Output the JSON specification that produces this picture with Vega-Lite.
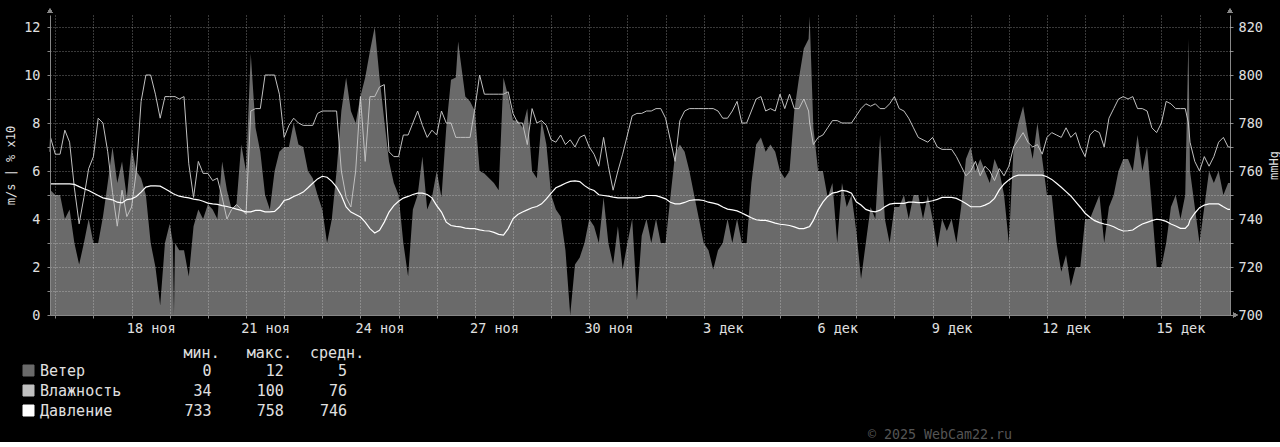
{
 "$schema": "https://vega.github.io/schema/vega-lite/v6.json",
 "background": "#000000",
 "padding": {"left": 4, "top": 8, "right": 0, "bottom": 0},
 "width": 1180,
 "height": 300,
 "title": {"text": "© 2025 WebCam22.ru", "orient": "bottom", "anchor": "start", "frame": "group", "dx": 818, "offset": 9, "font": "DejaVu Sans Mono", "fontSize": 13.3, "fontWeight": "normal", "color": "#555555"},
 "config": {
  "view": {"stroke": null},
  "font": "DejaVu Sans Mono",
  "axis": {"labelFont": "DejaVu Sans Mono", "labelFontSize": 13.5, "labelColor": "#e0e0e0", "titleFont": "DejaVu Sans Mono", "titleColor": "#e0e0e0", "titleFontWeight": "normal", "titleFontSize": 12, "domainColor": "#888888", "tickColor": "#888888", "gridColor": "#ffffff", "gridOpacity": 0.45, "gridDash": [1, 2], "labelFlush": false, "labelOverlap": false}
 },
 "data": {"values": [
  {"t":"2025-11-15T20:40","w":5.0,"h":68,"p":754.6},
  {"t":"2025-11-15T21:00","w":5.2,"h":74,"p":754.6},
  {"t":"2025-11-16T00:00","w":5.0,"h":67,"p":754.6},
  {"t":"2025-11-16T03:00","w":5.0,"h":67,"p":754.6},
  {"t":"2025-11-16T06:00","w":4.0,"h":77,"p":754.6},
  {"t":"2025-11-16T09:00","w":4.4,"h":72,"p":754.6},
  {"t":"2025-11-16T12:00","w":3.0,"h":53,"p":754.4},
  {"t":"2025-11-16T15:00","w":2.1,"h":38,"p":753.5},
  {"t":"2025-11-16T18:00","w":3.0,"h":49,"p":752.6},
  {"t":"2025-11-16T21:00","w":4.0,"h":61,"p":751.9},
  {"t":"2025-11-17T00:00","w":3.0,"h":66,"p":750.8},
  {"t":"2025-11-17T03:00","w":3.0,"h":82,"p":749.8},
  {"t":"2025-11-17T06:00","w":4.1,"h":80,"p":748.8},
  {"t":"2025-11-17T09:00","w":5.5,"h":68,"p":748.4},
  {"t":"2025-11-17T12:00","w":7.0,"h":51,"p":748.0},
  {"t":"2025-11-17T15:00","w":5.5,"h":37,"p":747.0},
  {"t":"2025-11-17T18:00","w":6.4,"h":52,"p":746.7},
  {"t":"2025-11-17T21:00","w":4.9,"h":41,"p":748.1},
  {"t":"2025-11-18T00:00","w":7.0,"h":45,"p":748.4},
  {"t":"2025-11-18T03:00","w":6.0,"h":60,"p":749.4},
  {"t":"2025-11-18T06:00","w":5.7,"h":89,"p":751.2},
  {"t":"2025-11-18T09:00","w":5.0,"h":100,"p":753.3},
  {"t":"2025-11-18T12:00","w":3.0,"h":100,"p":753.8},
  {"t":"2025-11-18T15:00","w":2.0,"h":92,"p":753.8},
  {"t":"2025-11-18T18:00","w":0.4,"h":82,"p":753.7},
  {"t":"2025-11-18T21:00","w":3.0,"h":91,"p":752.6},
  {"t":"2025-11-19T00:00","w":3.8,"h":91,"p":751.5},
  {"t":"2025-11-19T02:00","w":3.0,"h":91,"p":750.6},
  {"t":"2025-11-19T02:40","w":0.0,"h":91,"p":750.4},
  {"t":"2025-11-19T03:20","w":3.0,"h":91,"p":750.2},
  {"t":"2025-11-19T06:00","w":2.7,"h":90,"p":749.5},
  {"t":"2025-11-19T09:00","w":2.7,"h":91,"p":749.1},
  {"t":"2025-11-19T12:00","w":1.6,"h":63,"p":748.8},
  {"t":"2025-11-19T15:00","w":3.7,"h":49,"p":748.3},
  {"t":"2025-11-19T18:00","w":4.4,"h":64,"p":748.0},
  {"t":"2025-11-19T21:00","w":4.0,"h":59,"p":747.4},
  {"t":"2025-11-20T00:00","w":4.6,"h":59,"p":746.6},
  {"t":"2025-11-20T03:00","w":4.4,"h":56,"p":746.3},
  {"t":"2025-11-20T06:00","w":4.0,"h":57,"p":746.1},
  {"t":"2025-11-20T09:00","w":6.4,"h":49,"p":745.6},
  {"t":"2025-11-20T12:00","w":5.2,"h":40,"p":745.2},
  {"t":"2025-11-20T15:00","w":4.4,"h":44,"p":744.7},
  {"t":"2025-11-20T18:00","w":4.6,"h":46,"p":744.1},
  {"t":"2025-11-20T21:00","w":7.1,"h":44,"p":743.6},
  {"t":"2025-11-21T00:00","w":6.0,"h":42,"p":743.0},
  {"t":"2025-11-21T03:00","w":10.9,"h":85,"p":743.0},
  {"t":"2025-11-21T06:00","w":7.8,"h":86,"p":743.6},
  {"t":"2025-11-21T09:00","w":6.8,"h":86,"p":743.6},
  {"t":"2025-11-21T12:00","w":5.0,"h":100,"p":743.0},
  {"t":"2025-11-21T15:00","w":4.4,"h":100,"p":743.0},
  {"t":"2025-11-21T18:00","w":6.0,"h":100,"p":743.2},
  {"t":"2025-11-21T21:00","w":6.8,"h":92,"p":745.0},
  {"t":"2025-11-22T00:00","w":7.0,"h":74,"p":747.7},
  {"t":"2025-11-22T03:00","w":7.0,"h":79,"p":748.3},
  {"t":"2025-11-22T06:00","w":8.0,"h":82,"p":749.4},
  {"t":"2025-11-22T09:00","w":7.1,"h":80,"p":750.2},
  {"t":"2025-11-22T12:00","w":7.0,"h":79,"p":751.2},
  {"t":"2025-11-22T15:00","w":6.0,"h":79,"p":753.0},
  {"t":"2025-11-22T18:00","w":5.7,"h":79,"p":754.9},
  {"t":"2025-11-22T21:00","w":5.0,"h":84,"p":756.7},
  {"t":"2025-11-23T00:00","w":4.4,"h":85,"p":757.8},
  {"t":"2025-11-23T03:00","w":3.0,"h":85,"p":757.4},
  {"t":"2025-11-23T06:00","w":4.0,"h":85,"p":755.7},
  {"t":"2025-11-23T09:00","w":6.0,"h":85,"p":753.3},
  {"t":"2025-11-23T12:00","w":8.5,"h":60,"p":749.8},
  {"t":"2025-11-23T15:00","w":9.9,"h":49,"p":745.0},
  {"t":"2025-11-23T18:00","w":8.5,"h":45,"p":742.9},
  {"t":"2025-11-23T21:00","w":8.0,"h":60,"p":741.9},
  {"t":"2025-11-24T00:00","w":9.1,"h":91,"p":740.8},
  {"t":"2025-11-24T03:00","w":9.9,"h":64,"p":738.7},
  {"t":"2025-11-24T06:00","w":11.0,"h":91,"p":736.0},
  {"t":"2025-11-24T09:00","w":12.0,"h":91,"p":734.2},
  {"t":"2025-11-24T12:00","w":9.9,"h":95,"p":735.3},
  {"t":"2025-11-24T15:00","w":8.1,"h":96,"p":738.7},
  {"t":"2025-11-24T18:00","w":6.4,"h":68,"p":742.9},
  {"t":"2025-11-24T21:00","w":5.5,"h":66,"p":745.6},
  {"t":"2025-11-25T00:00","w":5.0,"h":66,"p":747.4},
  {"t":"2025-11-25T03:00","w":3.0,"h":75,"p":748.7},
  {"t":"2025-11-25T06:00","w":1.6,"h":75,"p":749.4},
  {"t":"2025-11-25T09:00","w":4.4,"h":80,"p":750.2},
  {"t":"2025-11-25T12:00","w":5.0,"h":85,"p":750.8},
  {"t":"2025-11-25T15:00","w":6.6,"h":79,"p":750.8},
  {"t":"2025-11-25T18:00","w":4.4,"h":74,"p":750.2},
  {"t":"2025-11-25T21:00","w":4.9,"h":77,"p":748.8},
  {"t":"2025-11-26T00:00","w":6.0,"h":75,"p":745.6},
  {"t":"2025-11-26T03:00","w":4.9,"h":85,"p":742.9},
  {"t":"2025-11-26T06:00","w":7.8,"h":80,"p":738.7},
  {"t":"2025-11-26T09:00","w":9.8,"h":80,"p":737.3},
  {"t":"2025-11-26T12:00","w":9.9,"h":74,"p":736.9},
  {"t":"2025-11-26T13:30","w":11.4,"h":74,"p":736.8},
  {"t":"2025-11-26T15:00","w":10.6,"h":74,"p":736.7},
  {"t":"2025-11-26T18:00","w":9.1,"h":74,"p":736.2},
  {"t":"2025-11-26T21:00","w":8.9,"h":74,"p":736.0},
  {"t":"2025-11-27T00:00","w":8.5,"h":86,"p":736.0},
  {"t":"2025-11-27T03:00","w":6.0,"h":100,"p":735.5},
  {"t":"2025-11-27T06:00","w":5.9,"h":92,"p":735.1},
  {"t":"2025-11-27T09:00","w":5.7,"h":92,"p":735.0},
  {"t":"2025-11-27T12:00","w":5.5,"h":92,"p":734.4},
  {"t":"2025-11-27T15:00","w":5.2,"h":92,"p":733.6},
  {"t":"2025-11-27T18:00","w":9.9,"h":92,"p":733.3},
  {"t":"2025-11-27T21:00","w":9.1,"h":93,"p":736.0},
  {"t":"2025-11-28T00:00","w":8.1,"h":84,"p":740.1},
  {"t":"2025-11-28T03:00","w":8.1,"h":80,"p":741.9},
  {"t":"2025-11-28T06:00","w":7.8,"h":80,"p":742.9},
  {"t":"2025-11-28T09:00","w":8.6,"h":71,"p":743.8},
  {"t":"2025-11-28T12:00","w":6.0,"h":86,"p":744.7},
  {"t":"2025-11-28T15:00","w":5.7,"h":80,"p":745.2},
  {"t":"2025-11-28T18:00","w":8.1,"h":81,"p":746.3},
  {"t":"2025-11-28T21:00","w":7.1,"h":79,"p":748.4},
  {"t":"2025-11-29T00:00","w":5.0,"h":73,"p":750.8},
  {"t":"2025-11-29T03:00","w":4.4,"h":72,"p":753.0},
  {"t":"2025-11-29T06:00","w":4.1,"h":75,"p":753.9},
  {"t":"2025-11-29T09:00","w":2.7,"h":71,"p":754.9},
  {"t":"2025-11-29T12:00","w":0.0,"h":73,"p":755.7},
  {"t":"2025-11-29T15:00","w":2.1,"h":70,"p":755.9},
  {"t":"2025-11-29T18:00","w":2.4,"h":74,"p":755.6},
  {"t":"2025-11-29T21:00","w":3.0,"h":75,"p":753.9},
  {"t":"2025-11-30T00:00","w":4.0,"h":70,"p":752.6},
  {"t":"2025-11-30T03:00","w":3.7,"h":67,"p":751.9},
  {"t":"2025-11-30T06:00","w":3.0,"h":62,"p":750.1},
  {"t":"2025-11-30T09:00","w":4.9,"h":74,"p":749.8},
  {"t":"2025-11-30T12:00","w":3.0,"h":62,"p":749.5},
  {"t":"2025-11-30T15:00","w":2.1,"h":52,"p":749.1},
  {"t":"2025-11-30T18:00","w":3.7,"h":60,"p":748.8},
  {"t":"2025-11-30T21:00","w":1.9,"h":67,"p":748.8},
  {"t":"2025-12-01T00:00","w":3.0,"h":75,"p":748.8},
  {"t":"2025-12-01T03:00","w":4.0,"h":83,"p":748.8},
  {"t":"2025-12-01T06:00","w":0.6,"h":84,"p":748.8},
  {"t":"2025-12-01T09:00","w":3.3,"h":84,"p":749.1},
  {"t":"2025-12-01T12:00","w":4.0,"h":85,"p":749.8},
  {"t":"2025-12-01T15:00","w":3.0,"h":85,"p":749.8},
  {"t":"2025-12-01T18:00","w":4.0,"h":86,"p":749.7},
  {"t":"2025-12-01T21:00","w":3.0,"h":86,"p":749.1},
  {"t":"2025-12-02T00:00","w":3.0,"h":82,"p":748.4},
  {"t":"2025-12-02T03:00","w":4.9,"h":73,"p":747.0},
  {"t":"2025-12-02T06:00","w":6.7,"h":64,"p":746.3},
  {"t":"2025-12-02T09:00","w":7.1,"h":81,"p":746.3},
  {"t":"2025-12-02T12:00","w":6.8,"h":85,"p":746.9},
  {"t":"2025-12-02T15:00","w":6.0,"h":86,"p":747.7},
  {"t":"2025-12-02T18:00","w":5.0,"h":86,"p":748.0},
  {"t":"2025-12-02T21:00","w":4.0,"h":86,"p":748.0},
  {"t":"2025-12-03T00:00","w":3.0,"h":86,"p":747.7},
  {"t":"2025-12-03T03:00","w":2.7,"h":86,"p":747.0},
  {"t":"2025-12-03T06:00","w":1.9,"h":86,"p":746.6},
  {"t":"2025-12-03T09:00","w":2.7,"h":85,"p":746.1},
  {"t":"2025-12-03T12:00","w":3.0,"h":82,"p":745.0},
  {"t":"2025-12-03T15:00","w":4.0,"h":82,"p":744.1},
  {"t":"2025-12-03T18:00","w":3.0,"h":85,"p":743.8},
  {"t":"2025-12-03T21:00","w":4.0,"h":89,"p":743.4},
  {"t":"2025-12-04T00:00","w":3.0,"h":80,"p":742.5},
  {"t":"2025-12-04T03:00","w":3.0,"h":80,"p":741.5},
  {"t":"2025-12-04T06:00","w":5.5,"h":85,"p":740.5},
  {"t":"2025-12-04T09:00","w":7.1,"h":90,"p":739.7},
  {"t":"2025-12-04T12:00","w":7.4,"h":91,"p":739.4},
  {"t":"2025-12-04T15:00","w":6.8,"h":85,"p":739.4},
  {"t":"2025-12-04T18:00","w":7.1,"h":86,"p":738.9},
  {"t":"2025-12-04T21:00","w":6.8,"h":85,"p":738.3},
  {"t":"2025-12-05T00:00","w":6.0,"h":92,"p":737.8},
  {"t":"2025-12-05T03:00","w":5.7,"h":86,"p":737.6},
  {"t":"2025-12-05T06:00","w":6.0,"h":92,"p":737.3},
  {"t":"2025-12-05T09:00","w":8.5,"h":86,"p":736.7},
  {"t":"2025-12-05T12:00","w":9.9,"h":86,"p":736.0},
  {"t":"2025-12-05T15:00","w":11.1,"h":90,"p":736.0},
  {"t":"2025-12-05T18:00","w":11.5,"h":85,"p":736.7},
  {"t":"2025-12-05T18:40","w":12.45,"h":80,"p":736.9},
  {"t":"2025-12-05T21:00","w":7.8,"h":71,"p":739.4},
  {"t":"2025-12-06T00:00","w":6.0,"h":74,"p":743.8},
  {"t":"2025-12-06T03:00","w":6.0,"h":75,"p":747.0},
  {"t":"2025-12-06T06:00","w":4.9,"h":78,"p":749.4},
  {"t":"2025-12-06T09:00","w":5.5,"h":81,"p":750.8},
  {"t":"2025-12-06T12:00","w":3.0,"h":81,"p":751.2},
  {"t":"2025-12-06T15:00","w":5.5,"h":80,"p":751.9},
  {"t":"2025-12-06T18:00","w":4.5,"h":80,"p":751.6},
  {"t":"2025-12-06T21:00","w":5.0,"h":80,"p":750.7},
  {"t":"2025-12-07T00:00","w":3.5,"h":83,"p":747.2},
  {"t":"2025-12-07T03:00","w":1.5,"h":86,"p":745.8},
  {"t":"2025-12-07T06:00","w":3.0,"h":88,"p":744.0},
  {"t":"2025-12-07T09:00","w":4.5,"h":87,"p":743.3},
  {"t":"2025-12-07T12:00","w":4.0,"h":88,"p":743.0},
  {"t":"2025-12-07T15:00","w":7.5,"h":86,"p":743.7},
  {"t":"2025-12-07T18:00","w":4.0,"h":86,"p":745.1},
  {"t":"2025-12-07T21:00","w":3.0,"h":88,"p":746.2},
  {"t":"2025-12-08T00:00","w":4.5,"h":91,"p":746.5},
  {"t":"2025-12-08T03:00","w":4.5,"h":86,"p":746.5},
  {"t":"2025-12-08T06:00","w":5.0,"h":85,"p":746.5},
  {"t":"2025-12-08T09:00","w":4.0,"h":82,"p":747.0},
  {"t":"2025-12-08T12:00","w":5.0,"h":78,"p":747.0},
  {"t":"2025-12-08T15:00","w":5.0,"h":74,"p":746.8},
  {"t":"2025-12-08T18:00","w":4.0,"h":73,"p":746.8},
  {"t":"2025-12-08T21:00","w":5.0,"h":72,"p":747.2},
  {"t":"2025-12-09T00:00","w":4.0,"h":74,"p":747.6},
  {"t":"2025-12-09T03:00","w":2.8,"h":70,"p":748.2},
  {"t":"2025-12-09T06:00","w":4.0,"h":69,"p":749.0},
  {"t":"2025-12-09T09:00","w":3.5,"h":69,"p":749.0},
  {"t":"2025-12-09T12:00","w":4.0,"h":69,"p":749.0},
  {"t":"2025-12-09T15:00","w":3.0,"h":66,"p":748.6},
  {"t":"2025-12-09T18:00","w":4.5,"h":62,"p":747.6},
  {"t":"2025-12-09T21:00","w":6.5,"h":58,"p":746.5},
  {"t":"2025-12-10T00:00","w":7.0,"h":60,"p":745.1},
  {"t":"2025-12-10T03:00","w":6.0,"h":64,"p":745.1},
  {"t":"2025-12-10T06:00","w":6.5,"h":58,"p":745.1},
  {"t":"2025-12-10T09:00","w":6.0,"h":62,"p":745.8},
  {"t":"2025-12-10T12:00","w":5.5,"h":60,"p":746.8},
  {"t":"2025-12-10T15:00","w":6.5,"h":56,"p":748.6},
  {"t":"2025-12-10T18:00","w":6.0,"h":61,"p":752.1},
  {"t":"2025-12-10T21:00","w":5.0,"h":58,"p":754.6},
  {"t":"2025-12-11T00:00","w":3.0,"h":62,"p":756.3},
  {"t":"2025-12-11T03:00","w":7.0,"h":70,"p":757.6},
  {"t":"2025-12-11T06:00","w":8.0,"h":73,"p":758.3},
  {"t":"2025-12-11T09:00","w":8.7,"h":76,"p":758.3},
  {"t":"2025-12-11T12:00","w":7.5,"h":72,"p":758.3},
  {"t":"2025-12-11T15:00","w":6.5,"h":70,"p":758.3},
  {"t":"2025-12-11T18:00","w":8.0,"h":71,"p":758.3},
  {"t":"2025-12-11T21:00","w":6.5,"h":67,"p":758.3},
  {"t":"2025-12-12T00:00","w":5.0,"h":74,"p":757.6},
  {"t":"2025-12-12T03:00","w":5.0,"h":76,"p":756.5},
  {"t":"2025-12-12T06:00","w":3.0,"h":75,"p":754.9},
  {"t":"2025-12-12T09:00","w":1.8,"h":74,"p":753.2},
  {"t":"2025-12-12T12:00","w":2.5,"h":78,"p":751.4},
  {"t":"2025-12-12T15:00","w":1.2,"h":74,"p":749.6},
  {"t":"2025-12-12T18:00","w":2.0,"h":76,"p":747.2},
  {"t":"2025-12-12T21:00","w":2.0,"h":70,"p":744.9},
  {"t":"2025-12-13T00:00","w":4.0,"h":66,"p":742.4},
  {"t":"2025-12-13T03:00","w":4.0,"h":75,"p":740.7},
  {"t":"2025-12-13T06:00","w":4.5,"h":77,"p":739.3},
  {"t":"2025-12-13T09:00","w":5.0,"h":76,"p":738.5},
  {"t":"2025-12-13T12:00","w":3.0,"h":70,"p":737.9},
  {"t":"2025-12-13T15:00","w":4.5,"h":82,"p":737.5},
  {"t":"2025-12-13T18:00","w":5.0,"h":86,"p":736.8},
  {"t":"2025-12-13T21:00","w":6.0,"h":90,"p":735.7},
  {"t":"2025-12-14T00:00","w":6.5,"h":91,"p":735.0},
  {"t":"2025-12-14T03:00","w":6.5,"h":90,"p":735.1},
  {"t":"2025-12-14T06:00","w":6.0,"h":91,"p":735.4},
  {"t":"2025-12-14T09:00","w":7.5,"h":86,"p":736.8},
  {"t":"2025-12-14T12:00","w":6.0,"h":86,"p":737.9},
  {"t":"2025-12-14T15:00","w":7.0,"h":85,"p":738.6},
  {"t":"2025-12-14T18:00","w":4.5,"h":78,"p":739.3},
  {"t":"2025-12-14T21:00","w":2.0,"h":76,"p":739.9},
  {"t":"2025-12-15T00:00","w":2.0,"h":80,"p":739.6},
  {"t":"2025-12-15T03:00","w":3.0,"h":89,"p":739.0},
  {"t":"2025-12-15T06:00","w":4.5,"h":88,"p":737.9},
  {"t":"2025-12-15T09:00","w":5.0,"h":86,"p":737.1},
  {"t":"2025-12-15T12:00","w":4.0,"h":86,"p":736.1},
  {"t":"2025-12-15T15:00","w":5.0,"h":86,"p":736.1},
  {"t":"2025-12-15T17:00","w":11.5,"h":80,"p":737.5},
  {"t":"2025-12-15T18:00","w":6.0,"h":72,"p":739.6},
  {"t":"2025-12-15T21:00","w":4.5,"h":64,"p":742.4},
  {"t":"2025-12-16T00:00","w":3.0,"h":60,"p":744.7},
  {"t":"2025-12-16T03:00","w":4.5,"h":66,"p":745.8},
  {"t":"2025-12-16T06:00","w":6.0,"h":62,"p":746.3},
  {"t":"2025-12-16T09:00","w":5.5,"h":66,"p":746.3},
  {"t":"2025-12-16T12:00","w":6.0,"h":72,"p":746.3},
  {"t":"2025-12-16T15:00","w":5.0,"h":74,"p":745.1},
  {"t":"2025-12-16T18:00","w":5.5,"h":70,"p":744.0},
  {"t":"2025-12-16T19:10","w":5.5,"h":70,"p":744.0}
 ]},
 "layer": [
  {
   "mark": {"type": "area", "interpolate": "linear"},
   "encoding": {
    "x": {"field": "t", "type": "temporal",
     "scale": {"domain": [{"year": 2025, "month": 11, "date": 15, "hours": 20, "minutes": 40}, {"year": 2025, "month": 12, "date": 16, "hours": 19, "minutes": 10}]},
     "axis": {"orient": "bottom", "tickCount": {"interval": "day", "step": 1}, "labels": false, "grid": true, "ticks": true, "tickSize": 3, "domain": true, "zindex": 1, "title": null}},
    "y": {"field": "w", "type": "quantitative", "scale": {"domain": [0, 12.5], "nice": false},
     "axis": {"orient": "left", "values": [0,1,2,3,4,5,6,7,8,9,10,11,12], "labelExpr": "datum.value % 2 == 0 ? datum.label : ''", "grid": true, "zindex": 1, "tickSize": 3, "labelPadding": 7, "title": "m/s | % x10", "titlePadding": 6}},
    "color": {"datum": "Ветер", "type": "nominal",
     "scale": {"domain": ["Ветер", "Влажность", "Давление"], "range": ["#6a6a6a", "#c0c0c0", "#ffffff"]},
     "legend": {"orient": "none", "legendX": -29, "legendY": 331, "direction": "vertical",
      "title": "\u200b\u00a0\u00a0\u00a0\u00a0\u00a0\u00a0\u00a0\u00a0\u00a0\u00a0\u00a0\u00a0\u00a0\u00a0\u00a0\u00a0\u00a0\u00a0мин.\u00a0\u00a0\u00a0макс.\u00a0\u00a0средн.",
      "titleFont": "DejaVu Sans Mono", "titleFontSize": 15, "titleFontWeight": "normal", "titleColor": "#e0e0e0", "titlePadding": 2, "titleLimit": 0,
      "labelFont": "DejaVu Sans Mono", "labelFontSize": 15, "labelColor": "#e0e0e0", "labelLimit": 0, "labelOffset": 4,
      "symbolType": "square", "symbolSize": 121, "symbolStrokeColor": "#999999", "symbolStrokeWidth": 1, "symbolOpacity": 1, "rowPadding": 4,
      "labelExpr": "datum.label == 'Ветер' ? 'Ветер\u00a0\u00a0\u00a0\u00a0\u00a0\u00a0\u00a0\u00a0\u00a0\u00a0\u00a0\u00a0\u00a00\u00a0\u00a0\u00a0\u00a0\u00a0\u00a012\u00a0\u00a0\u00a0\u00a0\u00a0\u00a05' : datum.label == 'Влажность' ? 'Влажность\u00a0\u00a0\u00a0\u00a0\u00a0\u00a0\u00a0\u00a034\u00a0\u00a0\u00a0\u00a0\u00a0100\u00a0\u00a0\u00a0\u00a0\u00a076' : 'Давление\u00a0\u00a0\u00a0\u00a0\u00a0\u00a0\u00a0\u00a0733\u00a0\u00a0\u00a0\u00a0\u00a0758\u00a0\u00a0\u00a0\u00a0746'",
      "encode": {"symbols": {"update": {"fill": {"scale": "color", "field": "value"}, "stroke": {"value": "#999999"}, "strokeWidth": {"value": 1}, "opacity": {"value": 1}}}}}}
   }
  },
  {
   "mark": {"type": "line", "strokeWidth": 1},
   "encoding": {
    "x": {"field": "t", "type": "temporal",
     "axis": {"orient": "bottom", "values": [
      {"year": 2025, "month": 11, "date": 18, "hours": 12},
      {"year": 2025, "month": 11, "date": 21, "hours": 12},
      {"year": 2025, "month": 11, "date": 24, "hours": 12},
      {"year": 2025, "month": 11, "date": 27, "hours": 12},
      {"year": 2025, "month": 11, "date": 30, "hours": 12},
      {"year": 2025, "month": 12, "date": 3, "hours": 12},
      {"year": 2025, "month": 12, "date": 6, "hours": 12},
      {"year": 2025, "month": 12, "date": 9, "hours": 12},
      {"year": 2025, "month": 12, "date": 12, "hours": 12},
      {"year": 2025, "month": 12, "date": 15, "hours": 12}],
      "labelExpr": "date(datum.value) + ' ' + (month(datum.value) == 10 ? 'ноя' : 'дек')",
      "grid": false, "ticks": false, "domain": false, "labelPadding": 6, "title": null}},
    "y": {"field": "h", "type": "quantitative", "scale": {"domain": [0, 125], "nice": false}, "axis": null},
    "color": {"datum": "Влажность", "type": "nominal"}
   }
  },
  {
   "mark": {"type": "line", "strokeWidth": 1.2},
   "encoding": {
    "x": {"field": "t", "type": "temporal", "axis": null},
    "y": {"field": "p", "type": "quantitative", "scale": {"domain": [700, 825], "nice": false, "zero": false},
     "axis": {"orient": "right", "values": [700,710,720,730,740,750,760,770,780,790,800,810,820], "labelExpr": "datum.value % 20 == 0 ? datum.label : ''", "grid": false, "tickSize": 3, "labelPadding": 5, "title": "mmHg", "titleAngle": 270, "titlePadding": 18}},
    "color": {"datum": "Давление", "type": "nominal"}
   }
  },
  {
   "mark": {"type": "point", "shape": "triangle-up", "filled": true, "size": 22, "color": "#888888", "opacity": 1},
   "encoding": {
    "x": {"datum": {"year": 2025, "month": 11, "date": 15, "hours": 20, "minutes": 40}, "type": "temporal", "axis": null},
    "y": {"datum": 12.68, "type": "quantitative", "scale": {"domain": [0, 12.5], "nice": false}, "axis": null}
   }
  },
  {
   "mark": {"type": "point", "shape": "triangle-up", "filled": true, "size": 22, "color": "#888888", "opacity": 1},
   "encoding": {
    "x": {"datum": {"year": 2025, "month": 12, "date": 16, "hours": 19, "minutes": 10}, "type": "temporal", "axis": null},
    "y": {"datum": 12.68, "type": "quantitative", "scale": {"domain": [0, 12.5], "nice": false}, "axis": null}
   }
  },
  {
   "mark": {"type": "point", "shape": "triangle-right", "filled": true, "size": 22, "color": "#888888", "opacity": 1},
   "encoding": {
    "x": {"datum": {"year": 2025, "month": 12, "date": 16, "hours": 22, "minutes": 30}, "type": "temporal", "axis": null},
    "y": {"datum": 0, "type": "quantitative", "scale": {"domain": [0, 12.5], "nice": false}, "axis": null}
   }
  }
 ],
 "resolve": {"scale": {"y": "independent"}, "axis": {"x": "independent", "y": "independent"}}
}
